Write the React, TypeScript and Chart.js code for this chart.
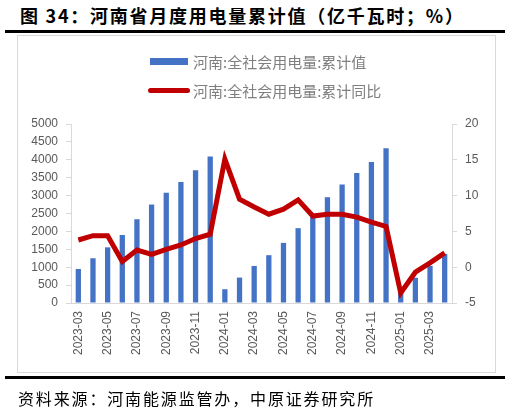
import React, { useEffect, useRef } from "react";
import { Chart, registerables } from "chart.js";

Chart.register(...registerables);

const categories = [
  "2023-03", "2023-04", "2023-05", "2023-06", "2023-07", "2023-08", "2023-09", "2023-10", "2023-11", "2023-12",
  "2024-01", "2024-02", "2024-03", "2024-04", "2024-05", "2024-06", "2024-07", "2024-08", "2024-09", "2024-10", "2024-11", "2024-12",
  "2025-01", "2025-02", "2025-03", "2025-04",
];
const cumulativeValue = [
  950, 1250, 1555, 1900, 2340, 2750, 3080, 3380, 3705, 4090,
  385, 710, 1035, 1335, 1680, 2090, 2440, 2955, 3310, 3630, 3940, 4320,
  330, 705, 1038, 1370,
];
const cumulativeYoY = [
  3.8, 4.4, 4.4, 0.8, 2.4, 1.8, 2.5, 3.1, 4.0, 4.6,
  15.1, 9.5, 8.4, 7.4, 8.1, 9.4, 7.15, 7.4, 7.4, 7.0, 6.3, 5.7,
  -3.6, -0.7, 0.6, 2.0,
];
const leftTicks = { min: 0, max: 5000, step: 500 };
const rightTicks = { min: -5, max: 20, step: 5 };
const seriesNames = ["河南:全社会用电量:累计值", "河南:全社会用电量:累计同比"];
const titleText = "图 34：河南省月度用电量累计值（亿千瓦时；%）";
const sourceText = "资料来源：河南能源监管办，中原证券研究所";

const BAR_COLOR = "#4472c4";
const LINE_COLOR = "#c00000";
const AXIS_COLOR = "#d9d9d9";
const TICK_COLOR = "#595959";
const TICK_FONT = { family: "'Liberation Sans', Arial, sans-serif", size: 12 };

export default function App() {
  const canvasRef = useRef<HTMLCanvasElement | null>(null);

  useEffect(() => {
    document.body.style.margin = "0";
    const canvas = canvasRef.current;
    if (!canvas) return;
    const chart = new Chart(canvas, {
      type: "bar",
      data: {
        labels: categories,
        datasets: [
          {
            type: "line",
            label: seriesNames[1],
            data: cumulativeYoY,
            yAxisID: "y1",
            borderColor: LINE_COLOR,
            backgroundColor: LINE_COLOR,
            borderWidth: 5,
            pointRadius: 0,
            tension: 0,
            order: 0,
          } as any,
          {
            type: "bar",
            label: seriesNames[0],
            data: cumulativeValue,
            yAxisID: "y",
            backgroundColor: BAR_COLOR,
            barPercentage: 0.36,
            categoryPercentage: 1,
            order: 1,
          },
        ],
      },
      options: {
        responsive: false,
        animation: false,
        devicePixelRatio: window.devicePixelRatio || 1,
        layout: { padding: { top: 124, left: 0, right: 0, bottom: 0 } },
        plugins: {
          legend: { display: false },
          tooltip: { enabled: false },
        },
        scales: {
          x: {
            offset: true,
            grid: { display: false, drawTicks: false },
            border: { display: true, color: AXIS_COLOR, width: 1 },
            ticks: {
              autoSkip: false,
              minRotation: 90,
              maxRotation: 90,
              padding: 8,
              color: TICK_COLOR,
              font: TICK_FONT,
              callback: (_v: any, i: number) => (i % 2 === 0 ? categories[i] : ""),
            },
            afterFit: (scale: any) => {
              scale.height = 409 - 303;
            },
          },
          y: {
            position: "left",
            min: leftTicks.min,
            max: leftTicks.max,
            grid: { drawOnChartArea: false, drawTicks: true, tickLength: 5, color: AXIS_COLOR },
            border: { display: true, color: AXIS_COLOR, width: 1 },
            ticks: {
              stepSize: leftTicks.step,
              padding: 8,
              color: TICK_COLOR,
              font: TICK_FONT,
              callback: (v: any) => String(v),
            },
            afterFit: (scale: any) => {
              scale.width = 71;
            },
          },
          y1: {
            position: "right",
            min: rightTicks.min,
            max: rightTicks.max,
            grid: { drawOnChartArea: false, drawTicks: true, tickLength: 5, color: AXIS_COLOR },
            border: { display: true, color: AXIS_COLOR, width: 1 },
            ticks: {
              stepSize: rightTicks.step,
              padding: 8,
              color: TICK_COLOR,
              font: TICK_FONT,
              callback: (v: any) => String(v),
            },
            afterFit: (scale: any) => {
              scale.width = 511 - 452;
            },
          },
        },
      },
    });
    return () => chart.destroy();
  }, []);

  const legendTextStyle: React.CSSProperties = {
    position: "absolute",
    left: 193,
    fontFamily: "'Noto Sans CJK SC', sans-serif",
    fontSize: 15,
    lineHeight: "15px",
    color: "#7f7f7f",
    whiteSpace: "nowrap",
  };

  return (
    <div
      style={{
        position: "fixed",
        left: 0,
        top: 0,
        width: 511,
        height: 409,
        background: "#ffffff",
        overflow: "hidden",
      }}
    >
      <div
        style={{
          position: "absolute",
          left: 20,
          top: 6,
          fontFamily: "'Noto Sans CJK SC', sans-serif",
          fontWeight: 700,
          fontSize: 18,
          lineHeight: "18px",
          letterSpacing: 1.75,
          color: "#000",
          whiteSpace: "nowrap",
        }}
      >
        {titleText}
      </div>
      <div style={{ position: "absolute", left: 5, top: 30, width: 500, height: 3, background: "#000" }} />
      <div
        style={{
          position: "absolute",
          left: 17,
          top: 35,
          width: 477,
          height: 336,
          border: `1px solid ${AXIS_COLOR}`,
        }}
      />
      <canvas
        ref={canvasRef}
        width={511}
        height={409}
        style={{ position: "absolute", left: 0, top: 0, width: 511, height: 409 }}
      />
      <div style={{ position: "absolute", left: 150, top: 58, width: 38, height: 7, background: BAR_COLOR }} />
      <div style={{ ...legendTextStyle, top: 53.5 }}>{seriesNames[0]}</div>
      <div
        style={{
          position: "absolute",
          left: 148,
          top: 88,
          width: 42,
          height: 5,
          borderRadius: 2.5,
          background: LINE_COLOR,
        }}
      />
      <div style={{ ...legendTextStyle, top: 83 }}>{seriesNames[1]}</div>
      <div style={{ position: "absolute", left: 5, top: 376, width: 500, height: 3, background: "#000" }} />
      <div
        style={{
          position: "absolute",
          left: 18,
          top: 389.5,
          fontFamily: "'Noto Sans CJK SC', sans-serif",
          fontSize: 16,
          lineHeight: "16px",
          letterSpacing: 1.85,
          color: "#000",
          whiteSpace: "nowrap",
        }}
      >
        {sourceText}
      </div>
    </div>
  );
}
